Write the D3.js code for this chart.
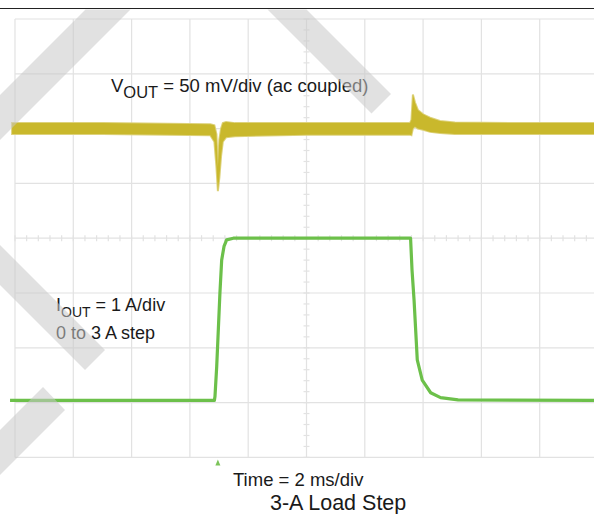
<!DOCTYPE html>
<html>
<head>
<meta charset="utf-8">
<script src="https://cdn.jsdelivr.net/npm/d3@7"></script>
<style>
  html, body { margin: 0; padding: 0; background: #fff; }
  svg { display: block; font-family: "Liberation Sans", Arial, sans-serif; }
</style>
</head>
<body>
<div class="display"></div>
<script>
const width = 594;
const height = 514;

// screen grid: 10 x 8 divisions
const timeDivs = [0, 2, 4, 6, 8, 10, 12, 14, 16, 18, 20];       // ms
const voltDivs = [-300, -250, -200, -150, -100, -50, 0, 50, 100]; // mV (ac coupled)

// VOUT trace, drawn as the noise band (low / high envelope), mV
const vTime = [-0.1, 3.0, 6.7, 6.84, 6.91, 6.96, 7.01, 7.07, 7.13, 7.24, 7.55, 10.0, 13.55, 13.6, 13.65, 13.72, 13.82, 14.0, 14.24, 14.58, 15.09, 17.0, 20.4];
const vLow  = [-5, -5, -6, -12, -35, -57, -45, -25, -12, -8, -7, -5.5, -5.5, -6, 0, 2, 0, -1, -3, -4, -5, -5, -5];
const vHigh = [5, 5, 4, 3, -5, -35, -10, 0, 5, 6, 5, 5, 5, 8, 31, 24, 17, 13, 10, 7, 5.5, 5, 5];

// IOUT trace, A
const iTime = [-0.17, 6.84, 6.86, 6.92, 6.97, 7.03, 7.09, 7.17, 7.26, 7.49, 13.57, 13.62, 13.69, 13.80, 13.97, 14.26, 14.60, 15.2, 20.4];
const iAmps = [0, 0, 0.07, 0.62, 1.23, 1.96, 2.56, 2.81, 2.93, 2.96, 2.96, 2.38, 1.83, 0.74, 0.37, 0.14, 0.05, 0.01, 0];

const triggerTime = 6.96;

// grey diagonal watermark bands laid over the picture
const watermark = [
  [[85.5, 9.5], [130.5, 9.5], [0, 140], [0, 95]],
  [[267.5, 9.5], [306.5, 9.5], [391, 94], [371.5, 113.5]],
  [[0, 245], [105, 350], [85, 370], [0, 285]],
  [[43, 387], [65, 410], [0, 475], [0, 430]]
];

const x = d3.scaleLinear().domain([0, 20]).range([15, 598]);
const yV = d3.scaleLinear().domain([-300, 100]).range([457.4, 19]);
const yI = d3.scaleLinear().domain([-1.04, 6.96]).range([457.4, 19]);

const svg = d3.select('.display')
  .append('svg')
  .attr('width', width)
  .attr('height', height);

// rule at the very top
svg.append('line')
  .attr('x1', 0).attr('x2', width)
  .attr('y1', 8.5).attr('y2', 8.5)
  .attr('stroke', '#222')
  .attr('stroke-width', 1.2);

const grid = svg.append('g').attr('stroke', '#e2e2e2').attr('stroke-width', 1.2);

grid.selectAll('.vline')
  .data(timeDivs)
  .enter()
  .append('line')
  .attr('x1', d => x(d)).attr('x2', d => x(d))
  .attr('y1', yV(100)).attr('y2', yV(-300));

grid.selectAll('.hline')
  .data(voltDivs)
  .enter()
  .append('line')
  .attr('x1', x(0)).attr('x2', x(20))
  .attr('y1', d => yV(d)).attr('y2', d => yV(d));

// minor ticks on the centre lines
const minorT = d3.range(0, 20.01, 0.4);
const minorV = d3.range(-300, 100.01, 10);
grid.selectAll('.tickx')
  .data(minorT)
  .enter()
  .append('line')
  .attr('x1', d => x(d)).attr('x2', d => x(d))
  .attr('y1', yV(-100) - 3).attr('y2', yV(-100) + 3);
grid.selectAll('.ticky')
  .data(minorV)
  .enter()
  .append('line')
  .attr('x1', x(10) - 3).attr('x2', x(10) + 3)
  .attr('y1', d => yV(d)).attr('y2', d => yV(d));

// VOUT band
const vData = vTime.map((t, i) => ({t, lo: vLow[i], hi: vHigh[i]}));
const vArea = d3.area().x(d => x(d.t)).y0(d => yV(d.lo)).y1(d => yV(d.hi));
svg.append('path')
  .datum(vData)
  .attr('fill', 'none')
  .attr('stroke', '#ddd27c')
  .attr('stroke-width', 2)
  .attr('d', vArea);
svg.append('path')
  .datum(vData)
  .attr('fill', '#c9b82c')
  .attr('d', vArea);

// IOUT line
const iData = iTime.map((t, i) => ({t, a: iAmps[i]}));
svg.append('path')
  .datum(iData)
  .attr('fill', 'none')
  .attr('stroke', '#6cc04a')
  .attr('stroke-width', 3.2)
  .attr('stroke-linejoin', 'round')
  .attr('d', d3.line().x(d => x(d.t)).y(d => yI(d.a)));

// trigger marker
const tx = x(triggerTime);
svg.append('path')
  .attr('d', `M${tx - 2.5},${yV(-300) + 8} L${tx},${yV(-300) + 2} L${tx + 2.5},${yV(-300) + 8} Z`)
  .attr('fill', '#7cc45a');

// labels
const vLabel = svg.append('text').attr('x', 111).attr('y', 92)
  .attr('font-size', 18.5).attr('fill', '#1a1a1a');
vLabel.append('tspan').text('V');
vLabel.append('tspan').attr('font-size', 16.5).attr('dy', 5.5).text('OUT');
vLabel.append('tspan').attr('dy', -5.5).text(' = 50 mV/div (ac coupled)');

const iLabel = svg.append('text').attr('x', 56).attr('y', 311)
  .attr('font-size', 18).attr('fill', '#1a1a1a');
iLabel.append('tspan').text('I');
iLabel.append('tspan').attr('font-size', 14).attr('dy', 6).text('OUT');
iLabel.append('tspan').attr('dy', -6).text(' = 1 A/div');

svg.append('text').attr('x', 56).attr('y', 338.5)
  .attr('font-size', 18).attr('fill', '#1a1a1a')
  .text('0 to 3 A step');

svg.append('text').attr('x', 233).attr('y', 486)
  .attr('font-size', 18.5).attr('fill', '#1a1a1a')
  .text('Time = 2 ms/div');

svg.append('text').attr('x', 270).attr('y', 510)
  .attr('font-size', 21.5).attr('fill', '#1a1a1a')
  .text('3-A Load Step');

// watermark on top
svg.append('g')
  .selectAll('polygon')
  .data(watermark)
  .enter()
  .append('polygon')
  .attr('points', d => d.map(p => p.join(',')).join(' '))
  .attr('fill', 'rgb(200, 200, 200)')
  .attr('fill-opacity', 0.55);
</script>
</body>
</html>
